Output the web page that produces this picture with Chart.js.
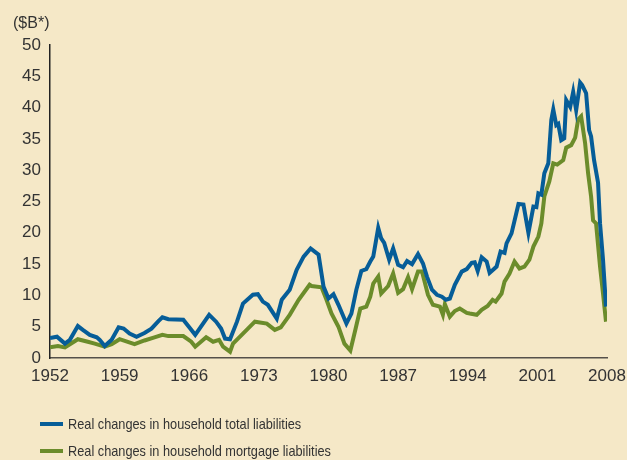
<!DOCTYPE html>
<html>
<head>
<meta charset="utf-8">
<script src="https://cdn.jsdelivr.net/npm/chart.js@4"></script>
<style>
  html, body { margin: 0; padding: 0; background: #f5e8c7; }
  #wrap { position: relative; width: 627px; height: 460px; }
  #unit { position: absolute; left: 13px; top: 14px; font: 16px "Liberation Sans", Arial, sans-serif; color: #333; }
  .leg { position: absolute; left: 40px; font: 15px "Liberation Sans", Arial, sans-serif; color: #333; white-space: nowrap; }
  .leg span { display: inline-block; width: 23px; height: 4px; vertical-align: middle; margin-right: 5px; position: relative; top: -1px; }
  .leg em { font-style: normal; display: inline-block; transform: scaleX(0.85); transform-origin: left center; }
</style>
</head>
<body>
<div id="wrap">
  <canvas id="chart" width="627" height="460"></canvas>
  <div id="unit">($B*)</div>
  <div class="leg" style="top:415px"><span style="background:#065d98"></span><em>Real changes in household total liabilities</em></div>
  <div class="leg" style="top:442px"><span style="background:#6b8c2b"></span><em>Real changes in household mortgage liabilities</em></div>
</div>
<script>

// real changes in household total liabilities ($B)
const totalYears = [1952.0, 1952.7, 1953.5, 1954.0, 1954.8, 1955.3, 1956.0, 1956.7, 1957.0, 1957.5,
  1958.2, 1958.9, 1959.4, 1960.0, 1960.7, 1961.5, 1962.2, 1962.9, 1963.3, 1963.9,
  1965.4, 1966.0, 1966.6, 1968.0, 1968.7, 1969.2, 1969.6, 1970.1, 1970.8, 1971.4,
  1972.4, 1972.9, 1973.4, 1973.9, 1974.8, 1975.3, 1976.1, 1976.8, 1977.5, 1978.2,
  1979.0, 1979.5, 1980.0, 1980.5, 1981.0, 1981.8, 1982.3, 1982.8, 1983.3, 1983.8,
  1984.2, 1984.5, 1985.0, 1985.3, 1985.6, 1986.1, 1986.5, 1987.0, 1987.5, 1987.9,
  1988.4, 1989.0, 1989.5, 1989.9, 1990.4, 1990.9, 1991.4, 1991.8, 1992.2, 1992.7,
  1993.4, 1993.9, 1994.4, 1994.7, 1995.0, 1995.4, 1995.9, 1996.2, 1996.9, 1997.3,
  1997.7, 1997.9, 1998.4, 1999.1, 1999.6, 2000.1, 2000.6, 2000.9, 2001.1, 2001.4,
  2001.7, 2002.1, 2002.4, 2002.6, 2002.9, 2003.1, 2003.4, 2003.7, 2003.9, 2004.3,
  2004.6, 2004.9, 2005.3, 2005.5, 2005.9, 2006.2, 2006.4, 2006.7, 2007.1, 2007.3,
  2007.6, 2007.9];
const totalValues = [3.2, 3.4, 2.3, 2.9, 5.1, 4.5, 3.7, 3.3, 2.9, 1.9,
  2.9, 4.9, 4.7, 3.9, 3.4, 4.0, 4.7, 5.9, 6.5, 6.2,
  6.1, 4.9, 3.7, 6.9, 5.8, 4.7, 3.1, 3.0, 5.8, 8.7,
  10.1, 10.2, 9.0, 8.5, 6.3, 9.3, 10.9, 14.1, 16.2, 17.5,
  16.5, 11.4, 9.5, 10.2, 8.5, 5.5, 7.1, 10.9, 13.9, 14.2,
  15.4, 16.2, 20.8, 19.1, 18.4, 15.7, 17.5, 14.9, 14.5, 15.5,
  15.0, 16.6, 15.1, 13.0, 10.9, 10.1, 9.8, 9.3, 9.5, 11.7,
  13.8, 14.2, 15.2, 15.3, 13.9, 16.1, 15.4, 13.6, 14.6, 17.0,
  16.8, 18.3, 19.9, 24.6, 24.5, 20.0, 24.2, 24.1, 26.3, 26.1,
  29.5, 31.1, 38.0, 39.7, 37.2, 37.4, 34.8, 35.1, 41.2, 40.1,
  42.5, 39.6, 44.0, 43.6, 42.3, 36.4, 35.4, 31.6, 28.0, 21.5,
  15.7, 8.2];

// real changes in household mortgage liabilities ($B)
const mortgageYears = [1952.0, 1952.8, 1953.5, 1954.0, 1954.8, 1955.8, 1956.5, 1957.5, 1958.2, 1959.0,
  1960.5, 1961.5, 1962.5, 1963.3, 1963.9, 1965.4, 1966.2, 1966.6, 1967.7, 1968.4,
  1969.0, 1969.4, 1970.1, 1970.4, 1971.4, 1972.6, 1973.8, 1974.6, 1975.2, 1976.1,
  1977.0, 1978.1, 1978.3, 1979.3, 1979.8, 1980.3, 1981.0, 1981.6, 1982.2, 1982.7,
  1983.2, 1983.8, 1984.2, 1984.5, 1985.0, 1985.3, 1986.0, 1986.5, 1987.0, 1987.5,
  1988.0, 1988.4, 1989.0, 1989.4, 1990.0, 1990.5, 1991.2, 1991.5, 1991.7, 1992.2,
  1992.7, 1993.2, 1993.9, 1994.2, 1994.9, 1995.4, 1996.0, 1996.5, 1996.8, 1997.4,
  1997.7, 1998.2, 1998.7, 1999.2, 1999.7, 2000.2, 2000.6, 2001.1, 2001.4, 2001.7,
  2002.2, 2002.6, 2003.0, 2003.6, 2003.9, 2004.4, 2004.8, 2005.1, 2005.4, 2005.8,
  2006.1, 2006.4, 2006.6, 2006.9, 2007.3, 2007.6, 2007.9];
const mortgageValues = [1.7, 1.9, 1.7, 2.2, 3.0, 2.6, 2.3, 1.8, 2.2, 3.0,
  2.2, 2.8, 3.3, 3.7, 3.5, 3.5, 2.6, 1.8, 3.3, 2.6,
  2.9, 1.8, 1.0, 2.3, 3.9, 5.8, 5.5, 4.5, 4.9, 6.9,
  9.3, 11.7, 11.5, 11.3, 9.3, 7.1, 5.0, 2.3, 1.2, 4.5,
  7.9, 8.2, 9.8, 11.9, 13.0, 10.3, 11.5, 13.5, 10.4, 11.0,
  12.9, 11.0, 13.8, 13.8, 10.1, 8.5, 8.2, 6.9, 8.6, 6.6,
  7.5, 7.9, 7.2, 7.1, 6.9, 7.7, 8.3, 9.3, 9.0, 10.3,
  12.2, 13.5, 15.4, 14.3, 14.6, 15.7, 17.8, 19.4, 21.5, 25.8,
  28.2, 31.1, 30.9, 31.6, 33.6, 34.0, 35.2, 38.1, 38.6, 34.3,
  29.5, 25.8, 22.0, 21.5, 14.6, 10.3, 5.8];

const xTicks = [1952, 1959, 1966, 1973, 1980, 1987, 1994, 2001, 2008];

const toPoints = (xs, ys) => xs.map((x, i) => ({ x: x, y: ys[i] }));

const tickFont = { family: '"Liberation Sans", Arial, sans-serif', size: 17 };

new Chart(document.getElementById('chart').getContext('2d'), {
    type: 'line',
    data: {
        datasets: [{
            label: 'Real changes in household total liabilities',
            data: toPoints(totalYears, totalValues),
            borderColor: '#065d98',
            borderWidth: 4,
            pointRadius: 0,
            tension: 0,
        }, {
            label: 'Real changes in household mortgage liabilities',
            data: toPoints(mortgageYears, mortgageValues),
            borderColor: '#6b8c2b',
            borderWidth: 4,
            pointRadius: 0,
            tension: 0,
        }]
    },
    options: {
        responsive: false,
        animation: false,
        layout: { padding: { left: 0, right: 20, top: 45, bottom: 72 } },
        scales: {
            x: {
                type: 'linear',
                min: 1952,
                max: 2008,
                afterBuildTicks: (scale) => { scale.ticks = xTicks.map(v => ({ value: v })); },
                afterFit: (scale) => {
                    scale.height = 30;
                    scale.paddingLeft = 0;
                    scale.paddingRight = 0;
                },
                grid: { display: false, drawTicks: false },
                border: { display: true, color: '#55504a', width: 1.5 },
                ticks: {
                    font: tickFont,
                    color: '#333',
                    padding: 8,
                    maxRotation: 0,
                    autoSkip: false,
                    callback: (v) => String(v),
                },
            },
            y: {
                min: 0,
                max: 50,
                afterFit: (scale) => {
                    scale.width = 50;
                    scale.paddingTop = 0;
                    scale.paddingBottom = 0;
                },
                grid: { display: false, drawTicks: false },
                border: { display: true, color: '#222', width: 1.5 },
                ticks: {
                    stepSize: 5,
                    font: tickFont,
                    color: '#333',
                    padding: 9,
                },
            },
        },
        plugins: {
            legend: { display: false },
            tooltip: { enabled: false },
        }
    }
});

</script>
</body>
</html>
